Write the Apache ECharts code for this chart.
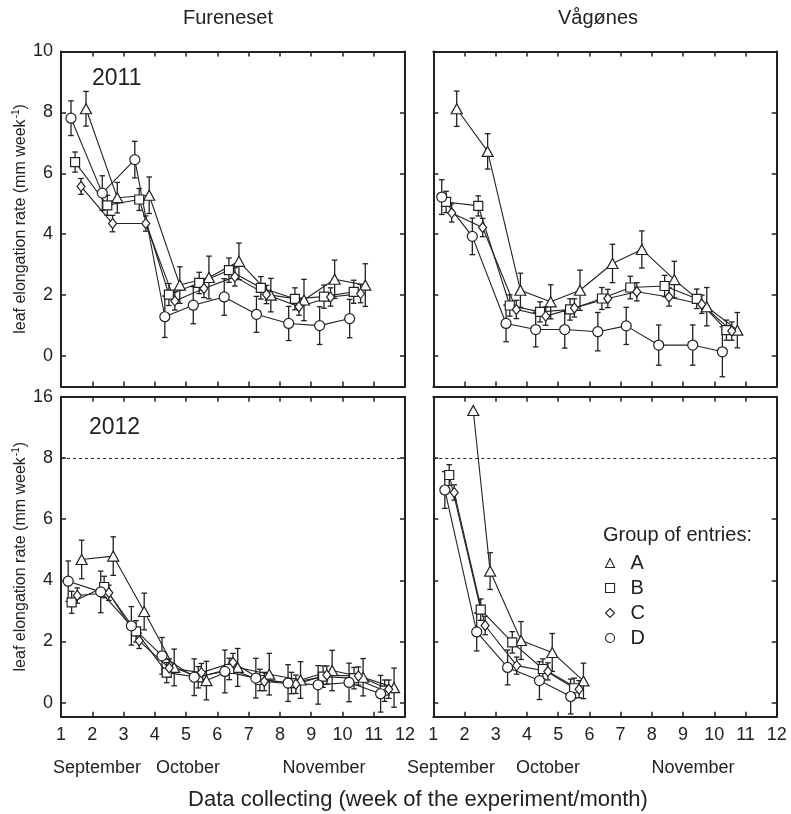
<!DOCTYPE html>
<html>
<head>
<meta charset="utf-8">
<script src="https://cdn.jsdelivr.net/npm/echarts@6/dist/echarts.min.js"></script>
<style>
  html, body { margin: 0; padding: 0; background: #fff; }
  #chart { width: 791px; height: 814px; }
</style>
</head>
<body>
<div id="chart"></div>
<script>
// Weekly leaf elongation rate, points as [week position, rate (mm/week), error]
// Fureneset 2011
const fur11A = [[1.80, 8.12, 0.57], [2.80, 5.20, 0.50], [3.82, 5.28, 0.60], [4.80, 2.33, 0.60], [5.73, 2.58, 0.70], [6.69, 3.11, 0.60], [7.71, 2.00, 0.55], [8.77, 1.84, 0.68], [9.75, 2.52, 0.63], [10.73, 2.33, 0.70]];
const fur11B = [[1.45, 6.37, 0.33], [2.48, 4.95, 0.33], [3.50, 5.14, 0.36], [4.45, 2.02, 0.36], [5.42, 2.40, 0.35], [6.37, 2.82, 0.40], [7.39, 2.24, 0.37], [8.48, 1.88, 0.36], [9.41, 1.95, 0.38], [10.36, 2.11, 0.38]];
const fur11C = [[1.64, 5.57, 0.26], [2.65, 4.35, 0.27], [3.71, 4.35, 0.25], [4.64, 1.81, 0.30], [5.57, 2.22, 0.30], [6.56, 2.60, 0.30], [7.57, 2.02, 0.30], [8.61, 1.62, 0.28], [9.62, 1.94, 0.30], [10.58, 2.05, 0.30]];
const fur11D = [[1.32, 7.81, 0.57], [2.32, 5.35, 0.57], [3.36, 6.45, 0.60], [4.32, 1.29, 0.68], [5.23, 1.67, 0.61], [6.22, 1.94, 0.60], [7.25, 1.37, 0.59], [8.28, 1.07, 0.56], [9.27, 1.00, 0.62], [10.23, 1.23, 0.63]];
// Vågønes 2011
const vag11A = [[1.75, 8.12, 0.58], [2.74, 6.72, 0.58], [3.79, 2.16, 0.56], [4.76, 1.78, 0.56], [5.70, 2.16, 0.66], [6.74, 3.04, 0.63], [7.68, 3.50, 0.61], [8.72, 2.51, 0.60], [9.76, 1.62, 0.63], [10.74, 0.85, 0.58]];
const vag11B = [[1.41, 5.06, 0.35], [2.44, 4.93, 0.33], [3.45, 1.66, 0.35], [4.42, 1.45, 0.33], [5.38, 1.53, 0.35], [6.40, 1.89, 0.36], [7.31, 2.25, 0.37], [8.41, 2.30, 0.35], [9.44, 1.88, 0.32], [10.39, 0.85, 0.33]];
const vag11C = [[1.59, 4.70, 0.30], [2.58, 4.22, 0.30], [3.66, 1.53, 0.30], [4.60, 1.31, 0.30], [5.52, 1.58, 0.30], [6.59, 1.89, 0.30], [7.52, 2.11, 0.30], [8.55, 1.94, 0.30], [9.60, 1.70, 0.30], [10.56, 0.82, 0.30]];
const vag11D = [[1.27, 5.22, 0.57], [2.25, 3.93, 0.60], [3.33, 1.07, 0.60], [4.28, 0.87, 0.57], [5.21, 0.87, 0.61], [6.27, 0.80, 0.63], [7.18, 0.99, 0.61], [8.22, 0.36, 0.66], [9.31, 0.36, 0.66], [10.26, 0.14, 0.82]];
// Fureneset 2012
const fur12A = [[1.66, 4.68, 0.63], [2.67, 4.79, 0.63], [3.66, 2.98, 0.60], [4.62, 1.15, 0.60], [5.65, 0.72, 0.63], [6.65, 1.15, 0.62], [7.66, 0.93, 0.68], [8.66, 0.74, 0.60], [9.67, 1.05, 0.66], [10.66, 0.83, 0.61], [11.65, 0.49, 0.64]];
const fur12B = [[1.34, 3.28, 0.36], [2.38, 3.78, 0.35], [3.40, 2.33, 0.35], [4.38, 0.98, 0.33], [5.39, 0.83, 0.35], [6.38, 1.10, 0.35], [7.36, 0.74, 0.35], [8.37, 0.64, 0.35], [9.38, 0.85, 0.35], [10.37, 0.80, 0.35], [11.35, 0.39, 0.35]];
const fur12C = [[1.52, 3.50, 0.25], [2.53, 3.59, 0.25], [3.50, 2.02, 0.25], [4.46, 1.13, 0.30], [5.49, 0.98, 0.30], [6.50, 1.31, 0.30], [7.50, 0.69, 0.30], [8.51, 0.60, 0.30], [9.50, 0.90, 0.30], [10.51, 0.87, 0.30], [11.48, 0.44, 0.30]];
const fur12D = [[1.23, 3.97, 0.66], [2.27, 3.62, 0.68], [3.25, 2.51, 0.63], [4.23, 1.53, 0.60], [5.26, 0.83, 0.60], [6.24, 1.02, 0.70], [7.23, 0.80, 0.65], [8.26, 0.64, 0.60], [9.22, 0.58, 0.63], [10.21, 0.66, 0.63], [11.22, 0.29, 0.60]];
// Vågønes 2012
const vag12A = [[2.28, 14.2, 0], [2.82, 4.30, 0.60], [3.81, 2.03, 0.62], [4.81, 1.64, 0.62], [5.81, 0.71, 0.58]];
const vag12B = [[1.51, 7.44, 0.34], [2.52, 3.04, 0.35], [3.53, 1.97, 0.35], [4.51, 1.10, 0.33], [5.51, 0.47, 0.33]];
const vag12C = [[1.67, 6.87, 0.25], [2.66, 2.52, 0.30], [3.67, 1.21, 0.28], [4.67, 1.02, 0.28], [5.67, 0.44, 0.28]];
const vag12D = [[1.37, 6.95, 0.60], [2.39, 2.31, 0.62], [3.38, 1.15, 0.57], [4.40, 0.72, 0.62], [5.40, 0.20, 0.57]];

const groupNames = ['A', 'B', 'C', 'D'];
const weekTicks = [1, 2, 3, 4, 5, 6, 7, 8, 9, 10, 11, 12];
const rateTicks = [0, 2, 4, 6, 8, 10];
const rateTicks2012 = [0, 2, 4, 6, 8, 16];
const breakAt = 8;       // 2012 axis is broken above 8: 8..16 shares the space of 8..10
const monthNames = ['September', 'October', 'November'];

const FONT = '"Liberation Sans", Arial, Helvetica, sans-serif';
const INK = '#222';

// broken-axis transform for the 2012 panels
function brk(v) { return v <= breakAt ? v : breakAt + (v - breakAt) / 4; }

const panels = [
  { sets: [fur11A, fur11B, fur11C, fur11D], left: 61, top: 51.5, width: 344, height: 335, min: -1, broken: false, yLabels: true, xLabels: false },
  { sets: [vag11A, vag11B, vag11C, vag11D], left: 433.3, top: 51.5, width: 343.4, height: 335, min: -1, broken: false, yLabels: false, xLabels: false },
  { sets: [fur12A, fur12B, fur12C, fur12D], left: 61, top: 396.7, width: 344, height: 320, min: -0.46, broken: true, yLabels: true, xLabels: true },
  { sets: [vag12A, vag12B, vag12C, vag12D], left: 433.3, top: 396.7, width: 343.4, height: 320, min: -0.46, broken: true, yLabels: false, xLabels: true }
];

const symbols = [
  { symbol: 'triangle', size: [11, 10] },
  { symbol: 'rect', size: 9 },
  { symbol: 'diamond', size: [8, 10] },
  { symbol: 'circle', size: 10 }
];

const axisLineStyle = { show: true, onZero: false, lineStyle: { color: INK, width: 2 } };
const tickStyle = { show: true, inside: true, length: 5, lineStyle: { color: INK, width: 1.5 } };

const grid = [], xAxis = [], yAxis = [], series = [];

function renderErr(params, api) {
  const x = api.value(0), lo = api.value(1), hi = api.value(2);
  if (hi - lo <= 0) return null;
  const p1 = api.coord([x, lo]);
  const p2 = api.coord([x, hi]);
  const w = 2.8;
  const st = { stroke: INK, lineWidth: 1.3 };
  return {
    type: 'group',
    children: [
      { type: 'line', shape: { x1: p1[0], y1: p1[1], x2: p2[0], y2: p2[1] }, style: st },
      { type: 'line', shape: { x1: p1[0] - w, y1: p1[1], x2: p1[0] + w, y2: p1[1] }, style: st },
      { type: 'line', shape: { x1: p2[0] - w, y1: p2[1], x2: p2[0] + w, y2: p2[1] }, style: st }
    ]
  };
}

panels.forEach((p, g) => {
  grid.push({ left: p.left, top: p.top, width: p.width, height: p.height, outerBoundsMode: 'none', containLabel: false });
  const tf = p.broken ? brk : (v => v);

  xAxis.push({
    type: 'value', gridIndex: g, position: 'bottom', min: 1, max: 12, interval: 1,
    axisLine: axisLineStyle, axisTick: tickStyle, splitLine: { show: false },
    axisLabel: { show: p.xLabels, margin: 9, fontSize: 18, color: INK, fontFamily: FONT,
      customValues: weekTicks }
  });
  xAxis.push({
    type: 'value', gridIndex: g, position: 'top', min: 1, max: 12, interval: 1,
    axisLine: axisLineStyle, axisTick: tickStyle, splitLine: { show: false },
    axisLabel: { show: false }
  });
  yAxis.push({
    type: 'value', gridIndex: g, position: 'left', min: p.min, max: 10,
    axisLine: axisLineStyle,
    axisTick: Object.assign({}, tickStyle, { customValues: rateTicks }),
    splitLine: { show: false },
    axisLabel: {
      show: p.yLabels, margin: 8, fontSize: 18, color: INK, fontFamily: FONT,
      customValues: rateTicks,
      formatter: v => p.broken ? String(rateTicks2012[rateTicks.indexOf(v)]) : String(v)
    },
    name: p.yLabels ? '{t|leaf elongation rate (mm week}{s|-1}{t|)}' : '',
    nameLocation: 'middle', nameRotate: 90, nameGap: 30,
    nameTextStyle: {
      rich: {
        t: { fontSize: 16, fontFamily: FONT, color: INK, lineHeight: 18, verticalAlign: 'bottom' },
        s: { fontSize: 10, fontFamily: FONT, color: INK, lineHeight: 18, verticalAlign: 'top', padding: [0, 0, 0, 1] }
      }
    }
  });
  yAxis.push({
    type: 'value', gridIndex: g, position: 'right', min: p.min, max: 10,
    axisLine: axisLineStyle,
    axisTick: Object.assign({}, tickStyle, { customValues: rateTicks }),
    splitLine: { show: false }, axisLabel: { show: false }
  });

  p.sets.forEach((set, k) => {
    const ax = { xAxisIndex: 2 * g, yAxisIndex: 2 * g };
    series.push(Object.assign({
      type: 'custom', name: groupNames[k] + ' error', renderItem: renderErr, z: 3,
      encode: { x: 0, y: [1, 2] }, silent: true,
      data: set.map(d => [d[0], tf(d[1] - d[2]), tf(d[1] + d[2])])
    }, ax));
    series.push(Object.assign({
      type: 'line', name: groupNames[k] + ' trend', showSymbol: false, z: 2, silent: true,
      lineStyle: { color: INK, width: 1.1 },
      data: set.map(d => [d[0], tf(d[1])])
    }, ax));
    series.push(Object.assign({
      type: 'scatter', name: groupNames[k], z: 4,
      symbol: symbols[k].symbol, symbolSize: symbols[k].size,
      itemStyle: { color: '#fff', borderColor: INK, borderWidth: 1.2, opacity: 1 },
      data: set.map(d => [d[0], tf(d[1])])
    }, ax));
  });

  if (p.broken) {
    series.push({
      type: 'line', name: 'break', xAxisIndex: 2 * g, yAxisIndex: 2 * g, data: [], silent: true,
      markLine: {
        silent: true, symbol: 'none', label: { show: false },
        lineStyle: { color: INK, type: [3, 3], width: 1.2 },
        data: [{ yAxis: breakAt }]
      }
    });
  }
});

const textStyle = (txt, size) => ({ text: txt, fontSize: size, fontFamily: FONT, fill: INK });

const graphic = [
  { type: 'text', style: Object.assign(textStyle('Fureneset', 20), { x: 228, y: 18, textAlign: 'center', textVerticalAlign: 'middle' }) },
  { type: 'text', style: Object.assign(textStyle('Vågønes', 20), { x: 598, y: 18, textAlign: 'center', textVerticalAlign: 'middle' }) },
  { type: 'text', style: Object.assign(textStyle('2011', 23), { x: 92, y: 78.5, textAlign: 'left', textVerticalAlign: 'middle' }) },
  { type: 'text', style: Object.assign(textStyle('2012', 23), { x: 89, y: 428, textAlign: 'left', textVerticalAlign: 'middle' }) },
  { type: 'text', style: Object.assign(textStyle(monthNames[0], 18), { x: 97, y: 768, textAlign: 'center', textVerticalAlign: 'middle' }) },
  { type: 'text', style: Object.assign(textStyle(monthNames[1], 18), { x: 188, y: 768, textAlign: 'center', textVerticalAlign: 'middle' }) },
  { type: 'text', style: Object.assign(textStyle(monthNames[2], 18), { x: 324, y: 768, textAlign: 'center', textVerticalAlign: 'middle' }) },
  { type: 'text', style: Object.assign(textStyle(monthNames[0], 18), { x: 451, y: 768, textAlign: 'center', textVerticalAlign: 'middle' }) },
  { type: 'text', style: Object.assign(textStyle(monthNames[1], 18), { x: 548, y: 768, textAlign: 'center', textVerticalAlign: 'middle' }) },
  { type: 'text', style: Object.assign(textStyle(monthNames[2], 18), { x: 693, y: 768, textAlign: 'center', textVerticalAlign: 'middle' }) },
  { type: 'text', style: Object.assign(textStyle('Data collecting (week of the experiment/month)', 22), { x: 418, y: 800, textAlign: 'center', textVerticalAlign: 'middle' }) },
  { type: 'text', style: Object.assign(textStyle('Group of entries:', 20), { x: 603, y: 535, textAlign: 'left', textVerticalAlign: 'middle' }) }
];
graphic.forEach(gr => { gr.silent = true; });

const legendStyle = { color: '#fff', borderColor: INK, borderWidth: 1.1 };
const option = {
  animation: false,
  backgroundColor: '#fff',
  grid, xAxis, yAxis, series, graphic,
  legend: {
    orient: 'vertical', left: 605, top: 553, itemGap: 5, itemWidth: 9, itemHeight: 9,
    selectedMode: false, padding: 0,
    textStyle: { fontSize: 20, fontFamily: FONT, color: INK, lineHeight: 20, padding: [0, 0, 0, 11] },
    data: [
      { name: 'A', icon: 'triangle', itemStyle: legendStyle },
      { name: 'B', icon: 'rect', itemStyle: legendStyle },
      { name: 'C', icon: 'diamond', itemStyle: legendStyle },
      { name: 'D', icon: 'circle', itemStyle: legendStyle }
    ]
  }
};

const chart = echarts.init(document.getElementById('chart'), null, { renderer: 'canvas' });
chart.setOption(option);
</script>
</body>
</html>
